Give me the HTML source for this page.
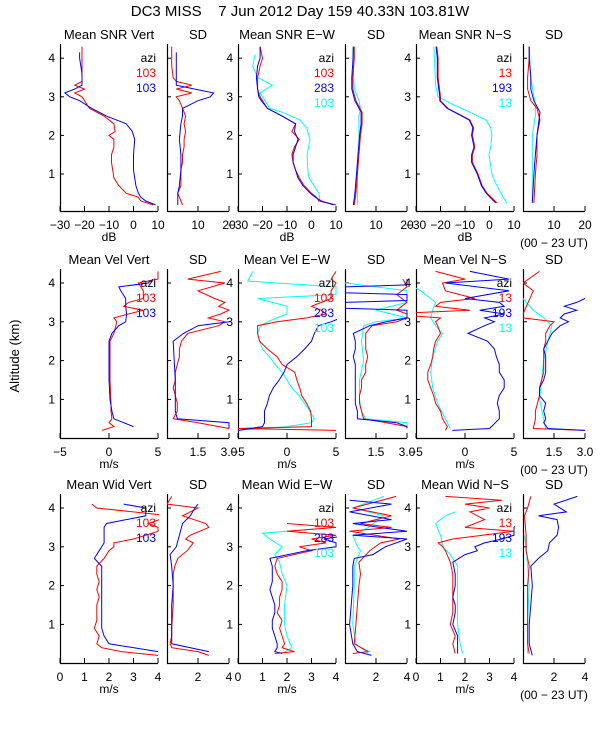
<!DOCTYPE html>
<html><head><meta charset="utf-8">
<style>
html,body{margin:0;padding:0;background:#fff;}
svg{display:block;font-family:"Liberation Sans",sans-serif;}
</style></head>
<body>
<svg id="chart" width="600" height="750" viewBox="0 0 600 750">
<rect x="0" y="0" width="600" height="750" fill="#fff"/>
<text x="300" y="16" text-anchor="middle" font-size="15" fill="#000" style="white-space:pre">DC3 MISS    7 Jun 2012 Day 159 40.33N 103.81W</text>
<text x="0" y="0" transform="translate(19,356) rotate(-90)" text-anchor="middle" font-size="13" fill="#000">Altitude (km)</text>
</svg>
<script>
// ---------- Row 1: SNR ----------
const snrVertRedAlt=[0.2,0.3,0.4,0.5,0.7,0.9,1.1,1.3,1.5,1.7,1.9,2.0,2.1,2.3,2.5,2.7,2.9,3.0,3.1,3.2,3.3,3.4,3.6,3.8,4.0,4.3];
const snrVertRedVal=[8,3,2,-3,-6,-8,-8.5,-9,-9,-8,-8,-10,-7.5,-8,-12,-18,-20,-21,-24,-20,-24,-21,-21,-21,-21,-21];
const snrVertBlueAlt=[0.2,0.3,0.4,0.5,0.7,0.9,1.1,1.5,1.9,2.1,2.3,2.5,2.7,2.9,3.0,3.1,3.2,3.3,3.6,4.0,4.15];
const snrVertBlueVal=[9,5,3,2,1,0.5,0,0,0.5,-0.5,-3,-11,-17,-22,-26,-28,-24,-21,-21,-22,-22];
const sdVertRedAlt=[0.2,0.3,0.4,0.5,0.7,0.9,1.1,1.3,1.5,1.7,1.9,2.1,2.3,2.5,2.7,2.9,3.0,3.1,3.2,3.3,3.4,3.5,3.8,4.3];
const sdVertRedVal=[5,4.5,4,3.5,4.5,4.5,4.5,5,5,5.5,5.5,6,5.5,6,5,4,3,8,3,8,3,2,1.5,1.5];
const sdVertBlueAlt=[0.2,0.5,0.7,1.1,1.5,1.9,2.3,2.5,2.7,2.9,3.0,3.1,3.2,3.3,3.6,4.15];
const sdVertBlueVal=[3.5,3.5,4,4.5,4.5,4,4.5,5,5,10,14,15,9,3,3,3];
const snrEWRedAlt=[0.2,0.3,0.4,0.5,0.7,0.9,1.1,1.3,1.5,1.7,1.9,2.1,2.3,2.5,2.7,2.9,3.0,3.2,3.5,3.8,4.0,4.3];
const snrEWRedVal=[10,3,2,0,-3,-5,-6.5,-7.5,-8,-7,-5,-8,-6.5,-12,-18,-20,-21,-22,-22,-21,-20,-21];
const snrEWBlueAlt=[0.2,0.3,0.4,0.5,0.7,0.9,1.1,1.3,1.5,1.7,1.9,2.1,2.3,2.5,2.7,2.9,3.0,3.2,3.5,3.8,4.0,4.3];
const snrEWBlueVal=[9,4,1.5,-0.5,-3.5,-5.5,-6.5,-7.5,-7.5,-6.5,-5.5,-7,-6.5,-12,-18,-20.5,-21.5,-22,-22.5,-22,-21,-21];
const snrEWCyanAlt=[0.3,0.5,0.7,0.9,1.1,1.5,1.9,2.2,2.4,2.6,2.7,3.0,3.1,3.3,3.5,3.8,4.1];
const snrEWCyanVal=[3.5,3,1,-1,-1.5,-1.8,-0.6,-2,-4.7,-12,-17,-20,-21,-16,-22,-24,-23];
const sdEWRedAlt=[0.2,0.5,1.0,1.5,2.0,2.3,2.6,2.9,3.2,3.5,4.0,4.3];
const sdEWRedVal=[3,3.5,4,4.5,5,5.5,5.5,3.5,2.5,2.5,3,3];
const sdEWBlueAlt=[0.2,0.5,1.0,1.5,2.0,2.3,2.6,2.9,3.2,3.5,4.0,4.3];
const sdEWBlueVal=[2.7,3.2,3.7,4.2,4.7,5.2,5.2,3.2,2.2,2.2,2.6,2.7];
const sdEWCyanAlt=[0.2,1.0,1.5,2.0,2.5,2.7,2.9,3.2,4.0,4.3];
const sdEWCyanVal=[4,4,4.5,4.5,4.5,5,4.5,3,2.5,2.5];
const snrNSRedAlt=[0.25,0.5,0.7,1.0,1.3,1.5,1.7,2.0,2.2,2.4,2.5,2.7,2.9,3.0,3.5,4.0,4.3];
const snrNSRedVal=[3,-1,-3,-4.7,-7,-7,-6,-7,-6.5,-8,-11,-17,-20,-20,-21,-21,-21.5];
const snrNSBlueAlt=[0.25,0.5,0.7,1.0,1.3,1.5,1.7,2.0,2.2,2.4,2.5,2.7,2.9,3.0,3.5,4.0,4.3];
const snrNSBlueVal=[2.5,-1.3,-3.3,-5,-7.3,-7.3,-6.3,-7.3,-6.8,-8.3,-11.3,-17.3,-20.3,-20.3,-21.3,-21.3,-21.8];
const snrNSCyanAlt=[0.25,0.5,0.8,1.0,1.5,1.7,2.0,2.2,2.4,2.6,2.8,3.0,3.3,4.3];
const snrNSCyanVal=[7,4.7,2.2,1,-0.2,0.5,1,0.5,-1.4,-8,-15,-21,-22,-22.7];
const sdNSRedAlt=[0.25,1.0,1.5,2.0,2.4,2.7,2.9,3.2,3.5,4.0,4.3];
const sdNSRedVal=[3.5,4,4.5,4.5,5.5,4.5,2.5,1.5,1.5,2,2];
const sdNSBlueAlt=[0.25,1.0,1.5,2.0,2.6,2.9,3.2,3.5,4.0,4.3];
const sdNSBlueVal=[3,3.5,4,4.5,5.5,3.5,2.5,2.5,2,2];
const sdNSCyanAlt=[0.25,1.0,2.0,2.5,2.8,3.0,3.5,4.3];
const sdNSCyanVal=[3,3,3,4,4,3.5,2.5,2];
// ---------- Row 2: Velocity ----------
const velVertRedAlt=[0.2,0.3,0.4,0.5,0.7,0.9,1.5,2.0,2.5,2.7,2.9,3.0,3.1,3.2,3.3,3.4,3.5,3.6,3.8,4.0,4.1,4.3];
const velVertRedVal=[-0.7,0.5,0,0.3,0.2,0.2,0.1,0.1,0.1,0.5,0.7,0.8,0.5,2,3.5,1.5,2,3.5,3.5,3,5,5];
const velVertBlueAlt=[0.3,0.5,0.7,1.0,1.5,2.0,2.5,2.7,2.9,3.0,3.2,3.4,3.6,3.8,3.9,4.0,4.1];
const velVertBlueVal=[2.5,0.5,0.3,0.1,0,0,0,0.3,1,1.7,1.8,1.7,1.7,1.2,1,4,4.5];
const velSdVertRedAlt=[0.25,0.3,0.4,0.5,0.7,0.9,1.1,1.3,1.5,1.7,1.9,2.1,2.3,2.5,2.7,2.9,3.0,3.1,3.2,3.3,3.4,3.5,3.6,3.8,4.0,4.1,4.3];
const velSdVertRedVal=[3,2.5,1.5,0.3,0.5,0.5,0.4,0.3,0.4,0.4,0.5,0.6,0.6,0.7,1.0,2.5,2.8,2.0,2.6,3.0,2.5,2.8,2.3,1.5,2.8,1.0,2.6];
const velSdVertBlueAlt=[0.25,0.4,0.5,0.7,1.0,1.5,2.0,2.5,2.7,2.9,3.0,3.05];
const velSdVertBlueVal=[3,3,0.5,0.4,0.4,0.4,0.35,0.3,0.8,1.5,3.0,3.5];
const velEWRedAlt=[0.2,0.25,0.3,0.4,0.5,0.7,0.9,1.1,1.3,1.5,1.7,1.9,2.1,2.3,2.5,2.7,2.9,3.0,3.1,3.2,3.3,3.4,3.5,3.6,3.8,4.0,4.1,4.3];
const velEWRedVal=[5,-5,2.5,2.5,2.5,2.4,2.0,1.5,1.3,1.0,0.8,-0.5,-1.0,-2,-2.8,-3.0,-3,-1,2,4,3.5,2.5,3.5,4.5,4.5,5,4.5,5];
const velEWBlueAlt=[0.2,0.3,0.4,0.5,0.7,0.9,1.1,1.3,1.5,1.7,1.9,2.1,2.3,2.5,2.7,2.9,3.0,3.1];
const velEWBlueVal=[-5,-2.5,-2.3,-2.3,-2.3,-2.0,-1.8,-1.4,-0.8,-0.3,0,1.0,1.8,2.5,2.8,3.2,4.5,5.5];
const velEWCyanAlt=[0.2,0.3,0.4,0.5,0.7,0.9,1.1,1.3,1.5,1.7,1.9,2.1,2.3,2.5,2.7,2.9,3.0,3.1,3.2,3.4,3.6,3.7,3.9,4.05,4.3];
const velEWCyanVal=[-5,0,2.5,2.8,2.3,1.8,1.2,0.5,0,-0.5,-1.2,-1.8,-2.5,-2.8,-3,-2.7,-2,-1,0,0,-3,5,5,-4,-3.5];
const velSdEWRedAlt=[0.25,0.3,0.4,0.5,0.7,0.9,1.1,1.3,1.5,1.7,1.9,2.1,2.3,2.5,2.7,2.9,3.0,3.1,3.2,3.3,3.5,3.7,3.9,4.1];
const velSdEWRedVal=[3,3,2,0.9,0.8,0.7,0.7,0.8,0.8,1.0,1.0,1.1,1.0,1.0,1.0,1.3,2.5,3,3,2.5,3,2.5,3,2.8];
const velSdEWBlueAlt=[0.25,0.3,0.4,0.5,0.7,0.9,1.1,1.5,1.9,2.1,2.3,2.5,2.7,2.9,3.0,3.1,3.3,3.35,3.5,3.55,3.7,3.75,3.9,3.95,4.1];
const velSdEWBlueVal=[3,3,2.5,0.6,0.6,0.5,0.5,0.5,0.5,0.4,0.5,0.5,0.4,1.2,2,3,3,0,0,3,3,0,0,3,3];
const velSdEWCyanAlt=[0.25,0.4,0.5,0.7,1.0,1.5,2.0,2.5,2.9,3.0,3.1,3.3,3.5,3.8,4.0];
const velSdEWCyanVal=[3,3,1,0.8,0.7,0.7,0.9,0.8,0.9,1.5,3,1.5,3,3,0];
const velNSRedAlt=[0.2,0.3,0.5,0.7,0.9,1.1,1.3,1.5,1.7,1.9,2.1,2.3,2.5,2.7,2.9,3.0,3.1,3.2,3.3,3.4,3.5,3.6,3.8,4.0,4.1,4.3];
const velNSRedVal=[-2,-1.8,-2.3,-2.5,-3.0,-3.2,-3.5,-3.8,-3.8,-3.5,-3.3,-3.2,-3,-2.5,-2.8,-3,-2.5,-8,0.5,-3,-2.5,1,-2,-2.3,0,-3];
const velNSBlueAlt=[0.2,0.25,0.5,0.7,0.9,1.1,1.3,1.5,1.7,1.9,2.1,2.3,2.5,2.7,2.9,3.0,3.1,3.2,3.3,3.4,3.5,3.6,3.8,4.0,4.1,4.3];
const velNSBlueVal=[-1.3,2.5,3.5,3.5,3.3,3.5,4,4,3.5,3.5,3.2,3,2.3,0.3,2,3,2,4,1.5,4,3.5,0,4.5,-2,4.5,0.5];
const velNSCyanAlt=[0.25,0.5,0.9,1.3,1.7,2.1,2.5,2.7,2.9,3.1,3.3,3.5,3.8,4.0];
const velNSCyanVal=[-1.5,-2,-2.8,-3.3,-3.5,-3.3,-2.8,-2.3,-3,-3.5,-3.3,-3,-4.5,-6];
const velSdNSRedAlt=[0.2,0.25,0.5,0.7,0.9,1.1,1.3,1.5,1.7,1.9,2.1,2.3,2.5,2.7,2.9,3.0,3.1,3.2,3.8,4.0,4.3];
const velSdNSRedVal=[3,0.5,0.6,0.6,0.7,0.8,0.8,0.9,1.0,1.0,1.0,1.0,1.1,1.1,1.3,1.5,0,0,0.5,0,0.8];
const velSdNSBlueAlt=[0.2,0.25,0.4,0.5,0.7,0.9,1.1,1.3,1.5,1.7,1.9,2.1,2.3,2.5,2.7,2.9,3.0,3.1,3.2,3.3,3.4,3.5,3.6];
const velSdNSBlueVal=[3,1.2,1.0,1.1,1.0,1.1,0.8,0.8,1.0,1.1,1.1,1.1,1.0,1.2,1.4,1.8,2.2,1.8,2.0,2.6,2.0,2.6,3.0];
const velSdNSCyanAlt=[0.25,1.0,2.0,2.5,2.9,3.1,3.3,3.6];
const velSdNSCyanVal=[1.1,0.8,1.0,1.2,1.4,1.0,0.5,0];
// ---------- Row 3: Width ----------
const widVertRedAlt=[0.2,0.3,0.4,0.5,0.7,0.9,1.1,1.3,1.5,1.7,1.9,2.1,2.3,2.5,2.7,2.9,3.0,3.1,3.2,3.3,3.4,3.5,3.6,3.8,4.0,4.1];
const widVertRedVal=[4,2.5,1.7,1.5,1.6,1.4,1.5,1.5,1.5,1.6,1.5,1.6,1.5,1.5,1.8,2.0,2.2,2.2,3.0,3.5,4,4,3.6,4.5,1.5,1.3];
const widVertBlueAlt=[0.3,0.5,0.7,0.9,1.5,2.0,2.5,2.7,2.9,3.1,3.3,3.5,3.6,3.8,4.0,4.1];
const widVertBlueVal=[4,2,1.8,1.7,1.7,1.7,1.7,1.4,1.6,1.8,1.8,1.8,1.9,3.5,3.5,2.6];
const widSdVertRedAlt=[0.2,0.3,0.4,0.5,0.7,0.9,1.5,2.1,2.3,2.5,2.7,2.9,3.0,3.1,3.2,3.3,3.5,3.6,3.8,4.0,4.1,4.3];
const widSdVertRedVal=[2.7,2,0.3,0.2,0.3,0.3,0.4,0.4,0.4,0.5,0.7,1.3,1.5,1.7,1.2,1.5,2.7,2.5,1.0,2.0,0,0.3];
const widSdVertBlueAlt=[0.3,0.5,1.0,1.5,2.0,2.5,2.8,3.0,3.3,3.6,3.8,4.0,4.1];
const widSdVertBlueVal=[2.7,0.3,0.3,0.3,0.4,0.3,0.2,0.6,0.8,1.0,1.5,1.8,2.0];
const widEWRedAlt=[0.25,0.3,0.4,0.5,0.7,0.9,1.1,1.3,1.5,1.7,1.9,2.1,2.3,2.5,2.7,2.9,3.0,3.1,3.2,3.3,3.4,3.5,3.6];
const widEWRedVal=[1.5,2.3,1.8,1.9,1.8,1.7,1.8,1.6,1.7,1.7,1.8,1.8,1.6,1.5,1.6,3.0,2.5,3.6,3.0,4,2.0,4,2.0];
const widEWBlueAlt=[0.25,0.3,0.4,0.5,0.7,0.9,1.1,1.3,1.5,1.7,1.9,2.1,2.3,2.5,2.7,2.9,3.0,3.1,3.2,3.3];
const widEWBlueVal=[1.8,1.5,1.6,1.6,1.5,1.4,1.4,1.5,1.5,1.4,1.3,1.4,1.4,1.4,1.3,2.8,4,4,3.5,4.5];
const widEWCyanAlt=[0.25,0.4,0.7,1.0,1.5,2.0,2.3,2.6,2.8,3.0,3.2,3.35,3.45,3.5];
const widEWCyanVal=[1.8,2.2,2.0,1.9,1.9,2.0,1.8,1.7,1.5,1.8,1.3,1.0,3,4];
const widSdEWRedAlt=[0.25,0.3,0.5,1.0,1.5,2.0,2.3,2.6,2.9,3.1,3.2,3.4,3.5,3.6,3.8,4.0,4.3];
const widSdEWRedVal=[0.5,1.5,0.6,0.7,0.8,0.9,1.0,0.9,1.6,2.3,3.5,0.3,3.0,1.0,3,0.5,3.3];
const widSdEWBlueAlt=[0.2,0.3,0.5,1.0,1.5,2.0,2.5,2.7,2.8,3.0,3.2,3.3,3.4,3.6,3.7,3.9,4.1,4.2];
const widSdEWBlueVal=[1.7,0.8,0.5,0.3,0.4,0.5,0.5,0.6,1.8,2.6,4,0.5,4,0.5,3,0.3,3,0.3];
const widSdEWCyanAlt=[0.25,0.5,1.0,2.0,2.5,2.9,3.0,3.3,3.5,3.8,4.0,4.3];
const widSdEWCyanVal=[1.5,0.7,0.5,0.6,0.6,1.0,0.8,0.5,1.5,2.5,0.5,2.5];
const widNSRedAlt=[0.25,0.5,0.7,1.0,1.3,1.5,1.7,2.0,2.3,2.6,2.9,3.0,3.1,3.2,3.4,3.5,3.7,3.9,4.0,4.1,4.2,4.3];
const widNSRedVal=[1.6,1.5,1.6,1.4,1.5,1.5,1.5,1.5,1.5,1.4,1.2,1.1,0.9,1.5,4,2.0,2.8,2.2,3.0,2.0,3.5,1.2];
const widNSBlueAlt=[0.25,0.5,0.7,1.0,1.3,1.5,1.7,2.0,2.3,2.6,2.8,2.9,3.0,3.1,3.2,3.3,3.5,3.8];
const widNSBlueVal=[1.7,1.7,1.7,1.5,1.6,1.6,1.5,1.6,1.6,1.5,2.0,2.5,2.4,2.8,3.5,4.0,4,4.5];
const widNSCyanAlt=[0.25,0.5,1.0,1.5,2.0,2.5,2.8,3.0,3.3,3.6,3.8,3.9];
const widNSCyanVal=[1.9,1.8,1.7,1.7,1.7,1.7,1.4,1.1,1.0,0.8,1.2,1.6];
const widSdNSRedAlt=[0.25,0.5,1.0,1.5,2.0,2.5,2.9,3.3,3.8,4.0,4.3];
const widSdNSRedVal=[0.4,0.3,0.3,0.3,0.3,0.4,0.2,0.2,0.1,0.3,0.5];
const widSdNSBlueAlt=[0.2,0.5,1.0,1.5,2.0,2.5,2.7,2.9,3.1,3.3,3.5,3.7,3.8,3.9,4.1,4.3];
const widSdNSBlueVal=[0.6,0.4,0.4,0.5,0.6,0.5,1.0,1.6,1.7,2.2,2.3,2.2,1.0,2.8,2.0,3.5];
const widSdNSCyanAlt=[0.25,1.0,2.0,2.5,3.0,3.3];
const widSdNSCyanVal=[0.3,0.3,0.4,0.3,0.2,0.1];
// tick labels
const altTicks=[1,2,3,4];
const snrTicks=[-30,-20,-10,0,10];
const snrSdTicks=[10,20];
const velTicks=[-5,0,5];
const velSdTicks=[1.5,3.0];
const widTicks=[0,1,2,3,4];
const widSdTicks=[2,4];

const NS='http://www.w3.org/2000/svg';
const svg=document.getElementById('chart');
const RED='#ff0000',BLUE='#0000ff',CYAN='#00ffff';
const rows=[{top:44,bot:211,zero:212.6,k:38.6},{top:269,bot:438,zero:438.2,k:38.8},{top:494,bot:663,zero:663.2,k:38.8}];
const cols=[[60,158],[167,229],[238,336],[345,407],[416,514],[523,585]];
function mk(tag,attrs,parent){const e=document.createElementNS(NS,tag);for(const k in attrs)e.setAttribute(k,attrs[k]);(parent||svg).appendChild(e);return e;}
let clipId=0;
function panel(cfg){
  const R=rows[cfg.row],[x0,x1]=cols[cfg.col];
  const g=mk('g',{});
  
  
  const sx=v=>x0+(v-cfg.xmin)/(cfg.xmax-cfg.xmin)*(x1-x0);
  const sy=a=>R.zero-a*R.k;
  const id='clip'+(clipId++);
  const cp=mk('clipPath',{id:id},g);mk('rect',{x:x0,y:R.top,width:x1-x0+1,height:R.bot-R.top},cp);
  const ax=mk('path',{d:`M${x0+0.5},${R.top}V${R.bot+0.5}H${x1}`,stroke:'#000',fill:'none','stroke-width':1.2},g);
  
  
  altTicks.forEach(t=>{
    mk('line',{x1:x0,x2:x0+4,y1:sy(t),y2:sy(t),stroke:'#000'},g);
    if(cfg.big){const tl=mk('text',{x:x0-5,y:sy(t)+4,'text-anchor':'end','font-size':12},g);tl.textContent=t;
      
      }
  });
  cfg.ticks.forEach(t=>{
    mk('line',{x1:sx(t),x2:sx(t),y1:R.bot,y2:R.bot-5,stroke:'#000'},g);
    const tl=mk('text',{x:sx(t),y:R.bot+18,'text-anchor':'middle','font-size':12},g);
    tl.textContent=(cfg.fmt?cfg.fmt(t):String(t)).replace('-','\u2212');
    
    
  });
  const ti=mk('text',{x:(x0+x1)/2,y:R.top-5,'text-anchor':'middle','font-size':13},g);ti.textContent=cfg.title;
  
  
  if(cfg.xtitle){const xt=mk('text',{x:(x0+x1)/2,y:R.bot+30,'text-anchor':'middle','font-size':12},g);xt.textContent=cfg.xtitle;
    
    }
  if(cfg.ut){const ut=mk('text',{x:(x0+x1)/2,y:R.bot+36,'text-anchor':'middle','font-size':12},g);ut.textContent='(00 \u2212 23 UT)';
    
    }
  const lg=mk('g',{'clip-path':`url(#${id})`},g);
  cfg.series.forEach(s=>{
    const d=s.alt.map((a,i)=>(i?'L':'M')+sx(s.val[i]).toFixed(1)+','+sy(a).toFixed(1)).join('');
    const p=mk('path',{d:d,stroke:s.c,fill:'none','stroke-width':1},lg);
    
    
  });
  if(cfg.legend){
    const items=[['azi','#000']].concat(cfg.legend);
    items.forEach((it,i)=>{const t=mk('text',{x:x1-2,y:R.top+18+i*15,'text-anchor':'end','font-size':12,fill:it[1]},g);t.textContent=it[0];
      
      });
  }
}
const f1=t=>t.toFixed(1);
panel({name:'mean-snr-vert',row:0,col:0,big:true,xmin:-30,xmax:10,ticks:snrTicks,title:'Mean SNR Vert',xtitle:'dB',legend:[['103',RED],['103',BLUE]],
  series:[{alt:snrVertRedAlt,val:snrVertRedVal,c:RED},{alt:snrVertBlueAlt,val:snrVertBlueVal,c:BLUE}]});
panel({name:'sd-snr-vert',row:0,col:1,xmin:0,xmax:20,ticks:snrSdTicks,title:'SD',
  series:[{alt:sdVertRedAlt,val:sdVertRedVal,c:RED},{alt:sdVertBlueAlt,val:sdVertBlueVal,c:BLUE}]});
panel({name:'mean-snr-ew',row:0,col:2,big:true,xmin:-30,xmax:10,ticks:snrTicks,title:'Mean SNR E\u2212W',xtitle:'dB',legend:[['103',RED],['283',BLUE],['103',CYAN]],
  series:[{alt:snrEWCyanAlt,val:snrEWCyanVal,c:CYAN},{alt:snrEWRedAlt,val:snrEWRedVal,c:RED},{alt:snrEWBlueAlt,val:snrEWBlueVal,c:BLUE}]});
panel({name:'sd-snr-ew',row:0,col:3,xmin:0,xmax:20,ticks:snrSdTicks,title:'SD',
  series:[{alt:sdEWCyanAlt,val:sdEWCyanVal,c:CYAN},{alt:sdEWRedAlt,val:sdEWRedVal,c:RED},{alt:sdEWBlueAlt,val:sdEWBlueVal,c:BLUE}]});
panel({name:'mean-snr-ns',row:0,col:4,big:true,xmin:-30,xmax:10,ticks:snrTicks,title:'Mean SNR N\u2212S',xtitle:'dB',legend:[['13',RED],['193',BLUE],['13',CYAN]],
  series:[{alt:snrNSCyanAlt,val:snrNSCyanVal,c:CYAN},{alt:snrNSRedAlt,val:snrNSRedVal,c:RED},{alt:snrNSBlueAlt,val:snrNSBlueVal,c:BLUE}]});
panel({name:'sd-snr-ns',row:0,col:5,xmin:0,xmax:20,ticks:snrSdTicks,title:'SD',ut:true,
  series:[{alt:sdNSCyanAlt,val:sdNSCyanVal,c:CYAN},{alt:sdNSRedAlt,val:sdNSRedVal,c:RED},{alt:sdNSBlueAlt,val:sdNSBlueVal,c:BLUE}]});

panel({name:'mean-vel-vert',row:1,col:0,big:true,xmin:-5,xmax:5,ticks:velTicks,title:'Mean Vel Vert',xtitle:'m/s',legend:[['103',RED],['103',BLUE]],
  series:[{alt:velVertRedAlt,val:velVertRedVal,c:RED},{alt:velVertBlueAlt,val:velVertBlueVal,c:BLUE}]});
panel({name:'sd-vel-vert',row:1,col:1,xmin:0,xmax:3,ticks:velSdTicks,fmt:f1,title:'SD',
  series:[{alt:velSdVertRedAlt,val:velSdVertRedVal,c:RED},{alt:velSdVertBlueAlt,val:velSdVertBlueVal,c:BLUE}]});
panel({name:'mean-vel-ew',row:1,col:2,big:true,xmin:-5,xmax:5,ticks:velTicks,title:'Mean Vel E\u2212W',xtitle:'m/s',legend:[['103',RED],['283',BLUE],['103',CYAN]],
  series:[{alt:velEWCyanAlt,val:velEWCyanVal,c:CYAN},{alt:velEWRedAlt,val:velEWRedVal,c:RED},{alt:velEWBlueAlt,val:velEWBlueVal,c:BLUE}]});
panel({name:'sd-vel-ew',row:1,col:3,xmin:0,xmax:3,ticks:velSdTicks,fmt:f1,title:'SD',
  series:[{alt:velSdEWCyanAlt,val:velSdEWCyanVal,c:CYAN},{alt:velSdEWRedAlt,val:velSdEWRedVal,c:RED},{alt:velSdEWBlueAlt,val:velSdEWBlueVal,c:BLUE}]});
panel({name:'mean-vel-ns',row:1,col:4,big:true,xmin:-5,xmax:5,ticks:velTicks,title:'Mean Vel N\u2212S',xtitle:'m/s',legend:[['13',RED],['193',BLUE],['13',CYAN]],
  series:[{alt:velNSCyanAlt,val:velNSCyanVal,c:CYAN},{alt:velNSRedAlt,val:velNSRedVal,c:RED},{alt:velNSBlueAlt,val:velNSBlueVal,c:BLUE}]});
panel({name:'sd-vel-ns',row:1,col:5,xmin:0,xmax:3,ticks:velSdTicks,fmt:f1,title:'SD',ut:true,
  series:[{alt:velSdNSCyanAlt,val:velSdNSCyanVal,c:CYAN},{alt:velSdNSRedAlt,val:velSdNSRedVal,c:RED},{alt:velSdNSBlueAlt,val:velSdNSBlueVal,c:BLUE}]});

panel({name:'mean-wid-vert',row:2,col:0,big:true,xmin:0,xmax:4,ticks:widTicks,title:'Mean Wid Vert',xtitle:'m/s',legend:[['103',RED],['103',BLUE]],
  series:[{alt:widVertRedAlt,val:widVertRedVal,c:RED},{alt:widVertBlueAlt,val:widVertBlueVal,c:BLUE}]});
panel({name:'sd-wid-vert',row:2,col:1,xmin:0,xmax:4,ticks:widSdTicks,title:'SD',
  series:[{alt:widSdVertRedAlt,val:widSdVertRedVal,c:RED},{alt:widSdVertBlueAlt,val:widSdVertBlueVal,c:BLUE}]});
panel({name:'mean-wid-ew',row:2,col:2,big:true,xmin:0,xmax:4,ticks:widTicks,title:'Mean Wid E\u2212W',xtitle:'m/s',legend:[['103',RED],['283',BLUE],['103',CYAN]],
  series:[{alt:widEWCyanAlt,val:widEWCyanVal,c:CYAN},{alt:widEWRedAlt,val:widEWRedVal,c:RED},{alt:widEWBlueAlt,val:widEWBlueVal,c:BLUE}]});
panel({name:'sd-wid-ew',row:2,col:3,xmin:0,xmax:4,ticks:widSdTicks,title:'SD',
  series:[{alt:widSdEWCyanAlt,val:widSdEWCyanVal,c:CYAN},{alt:widSdEWRedAlt,val:widSdEWRedVal,c:RED},{alt:widSdEWBlueAlt,val:widSdEWBlueVal,c:BLUE}]});
panel({name:'mean-wid-ns',row:2,col:4,big:true,xmin:0,xmax:4,ticks:widTicks,title:'Mean Wid N\u2212S',xtitle:'m/s',legend:[['13',RED],['193',BLUE],['13',CYAN]],
  series:[{alt:widNSCyanAlt,val:widNSCyanVal,c:CYAN},{alt:widNSRedAlt,val:widNSRedVal,c:RED},{alt:widNSBlueAlt,val:widNSBlueVal,c:BLUE}]});
panel({name:'sd-wid-ns',row:2,col:5,xmin:0,xmax:4,ticks:widSdTicks,title:'SD',ut:true,
  series:[{alt:widSdNSCyanAlt,val:widSdNSCyanVal,c:CYAN},{alt:widSdNSRedAlt,val:widSdNSRedVal,c:RED},{alt:widSdNSBlueAlt,val:widSdNSBlueVal,c:BLUE}]});
</script>
</body></html>
